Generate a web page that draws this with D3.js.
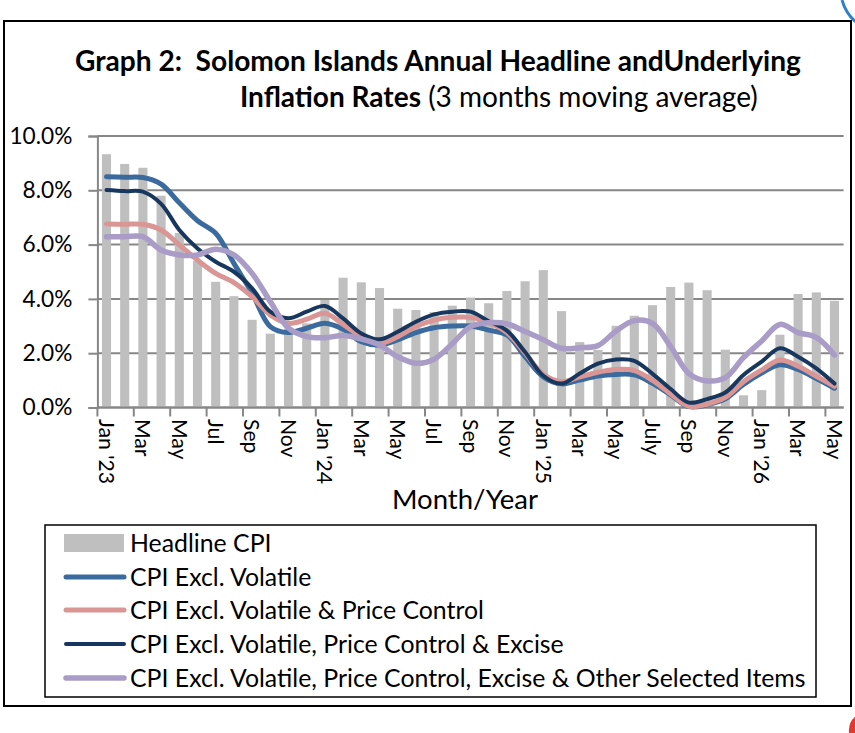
<!DOCTYPE html>
<html>
<head>
<meta charset="utf-8">
<script src="https://cdn.jsdelivr.net/npm/d3@7"></script>
<style>
  html, body { margin: 0; padding: 0; background: #fff; }
  svg { display: block; }
  text { font-family: Lato, "Noto Sans", sans-serif; fill: #000; }
</style>
</head>
<body>
<svg id="chart" width="855" height="733"></svg>
<script>
// ---------------- DATA ----------------
const categories = [
  "Jan 2023","Feb 2023","Mar 2023","Apr 2023","May 2023","Jun 2023","Jul 2023","Aug 2023","Sep 2023","Oct 2023","Nov 2023","Dec 2023",
  "Jan 2024","Feb 2024","Mar 2024","Apr 2024","May 2024","Jun 2024","Jul 2024","Aug 2024","Sep 2024","Oct 2024","Nov 2024","Dec 2024",
  "Jan 2025","Feb 2025","Mar 2025","Apr 2025","May 2025","Jun 2025","Jul 2025","Aug 2025","Sep 2025","Oct 2025","Nov 2025","Dec 2025",
  "Jan 2026","Feb 2026","Mar 2026","Apr 2026","May 2026"
];
// tick labels shown on every other month (aligned with categories at even positions)
const tickLabels = ["Jan '23","Mar","May","Jul","Sep","Nov","Jan '24","Mar","May","Jul","Sep","Nov",
                    "Jan '25","Mar","May","July","Sep","Nov","Jan '26","Mar","May"];
const yTicks = [0, 2, 4, 6, 8, 10];

const headlineCPI = [9.33,8.97,8.83,7.80,6.43,5.40,4.63,4.10,3.23,2.72,2.90,3.10,
                     3.96,4.78,4.61,4.40,3.64,3.59,3.51,3.75,4.05,3.84,4.29,4.65,
                     5.06,3.55,2.41,2.12,3.01,3.38,3.77,4.44,4.60,4.32,2.13,0.45,
                     0.64,2.68,4.18,4.24,3.93];
const exclVolatile = [8.50,8.48,8.47,8.23,7.54,6.88,6.42,5.31,4.21,2.98,2.76,2.92,
                      3.10,2.88,2.42,2.30,2.49,2.76,2.94,3.00,3.00,2.85,2.67,1.87,
                      1.13,0.87,1.01,1.16,1.22,1.20,0.89,0.46,0.03,0.10,0.32,0.85,
                      1.27,1.57,1.40,1.07,0.71];
const exclVolPriceCtrl = [6.76,6.75,6.75,6.54,5.99,5.43,4.94,4.60,4.08,3.41,3.10,3.25,
                          3.47,3.06,2.61,2.36,2.61,2.98,3.22,3.32,3.32,3.12,2.76,2.00,
                          1.22,0.95,1.13,1.30,1.40,1.36,1.00,0.50,0.04,0.12,0.37,0.95,
                          1.38,1.75,1.52,1.15,0.78];
const exclVolPriceCtrlExcise = [8.01,7.97,7.95,7.50,6.54,5.86,5.37,5.00,4.39,3.53,3.29,3.53,
                                3.74,3.28,2.73,2.51,2.79,3.16,3.43,3.53,3.53,3.18,2.83,2.04,
                                1.17,0.88,1.25,1.62,1.77,1.72,1.24,0.68,0.18,0.31,0.55,1.20,
                                1.69,2.18,1.87,1.44,0.88];
const exclVolPriceCtrlExciseOther = [6.29,6.29,6.29,5.80,5.62,5.62,5.83,5.62,4.94,3.90,2.92,2.61,
                                     2.57,2.65,2.52,2.30,1.87,1.63,1.78,2.35,2.98,3.12,3.08,2.80,
                                     2.50,2.18,2.20,2.28,2.82,3.20,3.10,2.24,1.25,0.98,1.10,1.84,
                                     2.45,3.06,2.76,2.58,1.93];

const barName = "Headline CPI";
const lineSeries = [
  { name: "CPI Excl. Volatile", values: exclVolatile, color: "#3b6a9e", width: 5 },
  { name: "CPI Excl. Volatile & Price Control", values: exclVolPriceCtrl, color: "#d99694", width: 5 },
  { name: "CPI Excl. Volatile, Price Control & Excise", values: exclVolPriceCtrlExcise, color: "#17375e", width: 4 },
  { name: "CPI Excl. Volatile, Price Control, Excise & Other Selected Items", values: exclVolPriceCtrlExciseOther, color: "#a99cc6", width: 5.5 }
];

// ---------------- CHART ----------------
const svg = d3.select("#chart");
svg.append("rect").attr("width", 855).attr("height", 733).attr("fill", "#fff");

// page decorations at right edge
svg.append("path").attr("d", "M842,0 Q846,14 856,22").attr("fill", "none")
   .attr("stroke", "#2f7fd0").attr("stroke-width", 3);
svg.append("path").attr("d", "M856,716 Q848,722 849,733 L856,733 Z").attr("fill", "#e23a2e");

// outer border
svg.append("rect").attr("x", 4).attr("y", 21).attr("width", 847).attr("height", 685)
   .attr("fill", "none").attr("stroke", "#000").attr("stroke-width", 2);

function fitWidth(sel, target) {
  const node = sel.node();
  const fs = parseFloat(sel.attr("font-size"));
  const w = node.getComputedTextLength();
  const nfs = fs * target / w;
  sel.attr("font-size", nfs);
  return nfs;
}

// title
const t1 = svg.append("text").attr("x", 75).attr("y", 71).attr("font-size", 24)
  .attr("font-weight", "bold").style("white-space", "pre")
  .text("Graph 2:  Solomon Islands Annual Headline andUnderlying");
fitWidth(t1, 726);
const t2 = svg.append("text").attr("x", 240).attr("y", 107).attr("font-size", 24).style("white-space", "pre");
t2.append("tspan").attr("font-weight", "bold").text("Inflation Rates");
t2.append("tspan").text(" (3 months moving average)");
fitWidth(t2, 518);

const x0 = 97.4, x1 = 843.6;
const x = d3.scaleBand().domain(categories).range([x0, x1]).paddingInner(0.5).paddingOuter(0.25);
const y = d3.scaleLinear().domain([0, 10]).range([407.5, 136]);
const step = x.step();
const cx = c => x(c) + x.bandwidth() / 2;

// gridlines
svg.append("g").selectAll("line").data(yTicks).join("line")
  .attr("x1", x0).attr("x2", x1)
  .attr("y1", d => y(d)).attr("y2", d => y(d))
  .attr("stroke", "#878787").attr("stroke-width", 2);

// y axis
const yAxis = svg.append("g").attr("transform", `translate(${x0},0)`)
  .call(d3.axisLeft(y).tickValues(yTicks).tickSize(9).tickPadding(16)
        .tickFormat(d => d3.format(".1%")(d / 100)));
yAxis.select(".domain").attr("stroke", "#878787").attr("stroke-width", 2);
yAxis.selectAll(".tick line").attr("stroke", "#878787").attr("stroke-width", 2);
yAxis.selectAll(".tick text").attr("font-family", "Lato").attr("font-size", 22).attr("fill", "#000");
{
  const top = yAxis.selectAll(".tick text").filter(d => d === 10);
  const fs = fitWidth(top, 63);
  yAxis.selectAll(".tick text").attr("font-size", fs);
}

// bars
svg.append("g").selectAll("rect").data(categories).join("rect")
  .attr("x", c => x(c)).attr("width", x.bandwidth())
  .attr("y", (c, i) => y(headlineCPI[i]))
  .attr("height", (c, i) => y(0) - y(headlineCPI[i]))
  .attr("fill", "#bfbfbf");

// x axis line and ticks
svg.append("line").attr("x1", x0).attr("x2", x1).attr("y1", y(0)).attr("y2", y(0))
  .attr("stroke", "#878787").attr("stroke-width", 2);
const labelCats = categories.filter((c, i) => i % 2 === 0);
svg.append("g").selectAll("line").data(labelCats).join("line")
  .attr("x1", c => x(c) - step * 0.25).attr("x2", c => x(c) - step * 0.25)
  .attr("y1", y(0)).attr("y2", y(0) + 9)
  .attr("stroke", "#878787").attr("stroke-width", 2);

const xl = svg.append("g").selectAll("text").data(labelCats).join("text")
  .attr("transform", c => `translate(${cx(c)},419) rotate(90)`)
  .attr("dy", "0.36em").attr("font-size", 21).style("white-space", "pre")
  .text((c, i) => tickLabels[i]);
{
  const first = d3.select(xl.nodes()[0]);
  const fs = fitWidth(first, 65);
  xl.attr("font-size", fs);
}

// lines
const line = d3.line().x((v, i) => cx(categories[i])).y(v => y(v)).curve(d3.curveCatmullRom.alpha(0.5));
svg.append("g").selectAll("path").data(lineSeries).join("path")
  .attr("d", s => line(s.values))
  .attr("fill", "none").attr("stroke", s => s.color).attr("stroke-width", s => s.width)
  .attr("stroke-linejoin", "round").attr("stroke-linecap", "round");

// x axis title
const xt = svg.append("text").attr("x", 465).attr("y", 509).attr("text-anchor", "middle")
  .attr("font-size", 24).text("Month/Year");
fitWidth(xt, 146);

// legend
const lg = svg.append("g");
lg.append("rect").attr("x", 45).attr("y", 525).attr("width", 771).attr("height", 172)
  .attr("fill", "#fff").attr("stroke", "#000").attr("stroke-width", 1.5);
const rows = [543, 577, 610, 644, 678];
lg.append("rect").attr("x", 64).attr("y", rows[0] - 9).attr("width", 60).attr("height", 18).attr("fill", "#bfbfbf");
lg.selectAll("line.s").data(lineSeries).join("line").attr("class", "s")
  .attr("x1", 66).attr("x2", 124)
  .attr("y1", (s, i) => rows[i + 1]).attr("y2", (s, i) => rows[i + 1])
  .attr("stroke", s => s.color).attr("stroke-width", s => s.width).attr("stroke-linecap", "round");
const names = [barName].concat(lineSeries.map(s => s.name));
const lt = lg.selectAll("text").data(names).join("text")
  .attr("x", 130).attr("y", (d, i) => rows[i]).attr("dy", "0.36em")
  .attr("font-size", 22).text(d => d);
{
  const last = d3.select(lt.nodes()[4]);
  const fs = fitWidth(last, 676);
  lt.attr("font-size", fs);
}
</script>
</body>
</html>
